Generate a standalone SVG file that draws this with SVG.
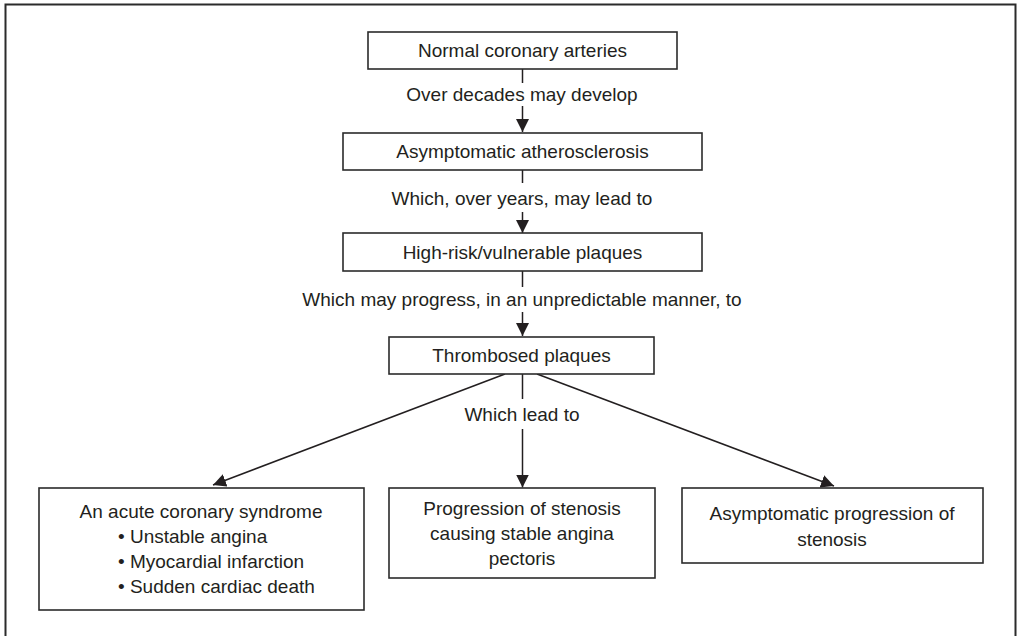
<svg xmlns="http://www.w3.org/2000/svg" width="1020" height="636" viewBox="0 0 1020 636">
<style>
.box{fill:#fff;stroke:#2b2b2b;stroke-width:1.6}
.ln{fill:none;stroke:#231f20;stroke-width:1.5}
text{font-family:"Liberation Sans",Arial,sans-serif;font-size:19px;fill:#231f20}
.c{text-anchor:middle}
</style>
<defs>
<marker id="ah" markerUnits="userSpaceOnUse" markerWidth="14" markerHeight="14" refX="13" refY="6.5" orient="auto">
<path d="M0,0 L13,6.5 L0,13 Z" fill="#231f20"/>
</marker>
</defs>
<rect width="1020" height="636" fill="#fff"/>
<path d="M5.5,640 V4.5 H1015.5 V640" fill="none" stroke="#2b2b2b" stroke-width="2"/>

<g id="connectors">
<line class="ln" x1="522.5" y1="69" x2="522.5" y2="83"/>
<line class="ln" x1="522.5" y1="106" x2="522.5" y2="132" marker-end="url(#ah)"/>
<line class="ln" x1="522.5" y1="170" x2="522.5" y2="183"/>
<line class="ln" x1="522.5" y1="212" x2="522.5" y2="233" marker-end="url(#ah)"/>
<line class="ln" x1="522.5" y1="271" x2="522.5" y2="287"/>
<line class="ln" x1="522.5" y1="312" x2="522.5" y2="336" marker-end="url(#ah)"/>
<line class="ln" x1="522.5" y1="374" x2="522.5" y2="399"/>
<line class="ln" x1="522.5" y1="429" x2="522.5" y2="487.5" marker-end="url(#ah)"/>
<line class="ln" x1="505" y1="374" x2="213" y2="485" marker-end="url(#ah)"/>
<line class="ln" x1="537" y1="374" x2="834" y2="486" marker-end="url(#ah)"/>
<text class="c" x="522" y="101">Over decades may develop</text>
<text class="c" x="522" y="205">Which, over years, may lead to</text>
<text class="c" x="522" y="306">Which may progress, in an unpredictable manner, to</text>
<text class="c" x="522" y="421">Which lead to</text>
</g>

<g id="n1">
<rect class="box" x="368" y="32" width="309" height="37"/>
<text class="c" x="522.5" y="57">Normal coronary arteries</text>
</g>
<g id="n2">
<rect class="box" x="343" y="133" width="359" height="37"/>
<text class="c" x="522.5" y="158">Asymptomatic atherosclerosis</text>
</g>
<g id="n3">
<rect class="box" x="343" y="233" width="359" height="38"/>
<text class="c" x="522.5" y="259">High-risk/vulnerable plaques</text>
</g>
<g id="n4">
<rect class="box" x="389" y="337" width="265" height="37"/>
<text class="c" x="521.5" y="362">Thrombosed plaques</text>
</g>
<g id="n5">
<rect class="box" x="39" y="488" width="325" height="122"/>
<text class="c" x="201" y="518">An acute coronary syndrome</text>
<text x="118" y="543">• Unstable angina</text>
<text x="118" y="568">• Myocardial infarction</text>
<text x="118" y="593">• Sudden cardiac death</text>
</g>
<g id="n6">
<rect class="box" x="389" y="488" width="266" height="90"/>
<text class="c" x="522" y="515">Progression of stenosis</text>
<text class="c" x="522" y="540">causing stable angina</text>
<text class="c" x="522" y="565">pectoris</text>
</g>
<g id="n7">
<rect class="box" x="682" y="488" width="301" height="75"/>
<text class="c" x="832" y="520">Asymptomatic progression of</text>
<text class="c" x="832" y="546">stenosis</text>
</g>
</svg>
